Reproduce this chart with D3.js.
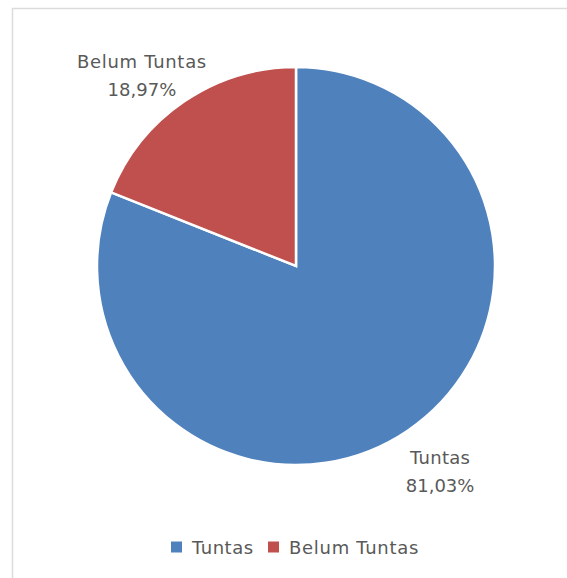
<!DOCTYPE html>
<html>
<head>
<meta charset="utf-8">
<script src="https://cdn.jsdelivr.net/npm/d3@7"></script>
<style>
  html, body { margin: 0; padding: 0; background: #fff; }
  svg { display: block; }
  text { font-family: "DejaVu Sans", sans-serif; fill: #595959; }
</style>
</head>
<body>
<svg id="chart" width="567" height="578"></svg>
<script>
const categories = ["Tuntas", "Belum Tuntas"];
const values = [81.03, 18.97];
const labels = ["81,03%", "18,97%"];
const colors = ["#4F81BD", "#C0504D"];

const svg = d3.select("#chart");

// chart area border (top and left edges visible)
svg.append("rect")
  .attr("x", 12.5).attr("y", 8.5)
  .attr("width", 600).attr("height", 600)
  .attr("fill", "#fff")
  .attr("stroke", "#dcdcdc").attr("stroke-width", 1.5);

const cx = 296, cy = 266, r = 199;
const data = categories.map((c, i) => ({ name: c, value: values[i], label: labels[i], color: colors[i] }));

const pie = d3.pie().sort(null).value(d => d.value);
const arc = d3.arc().innerRadius(0).outerRadius(r);
const arcs = pie(data);

const g = svg.append("g").attr("transform", `translate(${cx},${cy})`);
g.selectAll("path").data(arcs).join("path")
  .attr("d", arc)
  .attr("fill", d => d.data.color)
  .attr("stroke", "#fff")
  .attr("stroke-width", 2.5)
  .attr("stroke-linejoin", "miter");

// data labels outside the pie ("best fit" style nudges)
const labelArc = d3.arc().innerRadius(246).outerRadius(246);
const nudge = { "Tuntas": [6, 0], "Belum Tuntas": [-16, 12] };
const lab = g.selectAll("g.lab").data(arcs).join("g").attr("class", "lab")
  .attr("transform", d => {
    const [x, y] = labelArc.centroid(d);
    const n = nudge[d.data.name];
    return `translate(${x + n[0]},${y + n[1]})`;
  });
lab.append("text")
  .attr("text-anchor", "middle")
  .attr("font-size", 18)
  .attr("letter-spacing", d => d.data.name.length > 8 ? 0.7 : 0.3)
  .attr("y", -6)
  .text(d => d.data.name);
lab.append("text")
  .attr("text-anchor", "middle")
  .attr("font-size", 18)
  .attr("y", 22)
  .text(d => d.data.label);

// legend
const legendItems = [
  { x: 171, name: categories[0], color: colors[0] },
  { x: 268, name: categories[1], color: colors[1] }
];
const lg = svg.append("g").attr("class", "legend");
const li = lg.selectAll("g").data(legendItems).join("g")
  .attr("transform", d => `translate(${d.x},547)`);
li.append("rect")
  .attr("x", 0).attr("y", -5.5)
  .attr("width", 11).attr("height", 11)
  .attr("fill", d => d.color);
li.append("text")
  .attr("x", 21).attr("y", 7)
  .attr("font-size", 18)
  .attr("letter-spacing", d => d.name.length > 8 ? 0.7 : 0.5)
  .text(d => d.name);
</script>
</body>
</html>
